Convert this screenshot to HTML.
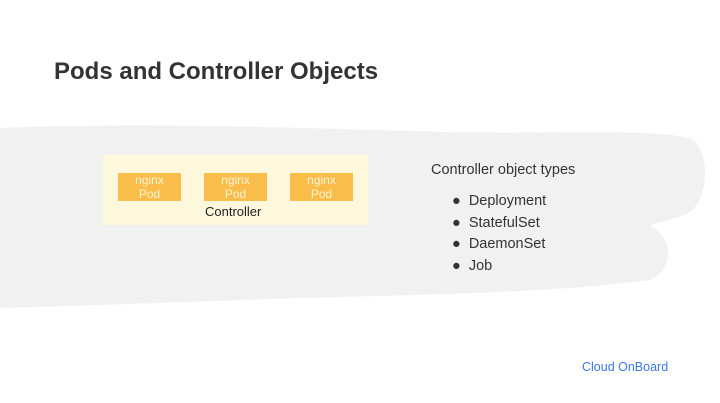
<!DOCTYPE html>
<html><head><style>
body{margin:0;width:720px;height:403px;background:#fff;position:relative;overflow:hidden;font-family:"Liberation Sans",sans-serif;}
.t{position:absolute;white-space:nowrap;}
.pod{position:absolute;top:173px;width:63px;height:28px;background:#fbbd4a;color:#fff3d4;font-size:12px;line-height:14px;text-align:center;}
</style></head><body>
<svg width="720" height="403" style="position:absolute;left:0;top:0">
<path d="M0 128 C150 122 300 128 450 132 C560 134 640 128 690 138 C712 150 708 200 690 212 C670 222 655 222 650 226 C672 236 676 268 650 280 C560 292 450 294 300 298 C180 302 80 306 0 308 Z" fill="#f1f1f1"/>
</svg>
<div class="t" style="left:54px;top:58px;font-size:24px;font-weight:bold;color:#333;">Pods and Controller Objects</div>
<div style="position:absolute;left:103px;top:155px;width:265px;height:70px;background:#fdf7dc;"></div>
<div class="pod" style="left:118px">nginx<br>Pod</div>
<div class="pod" style="left:204px">nginx<br>Pod</div>
<div class="pod" style="left:290px">nginx<br>Pod</div>
<div class="t" style="left:205px;top:204px;font-size:13px;color:#222;">Controller</div>
<div class="t" style="left:431px;top:162px;font-size:14.5px;color:#333;">Controller object types</div>
<div class="t" style="left:452px;top:191px;font-size:14.5px;color:#333;line-height:21.5px;">
● &nbsp;Deployment<br>● &nbsp;StatefulSet<br>● &nbsp;DaemonSet<br>● &nbsp;Job</div>
<div class="t" style="left:582px;top:360px;font-size:12.5px;color:#3b78e7;">Cloud OnBoard</div>
</body></html>
